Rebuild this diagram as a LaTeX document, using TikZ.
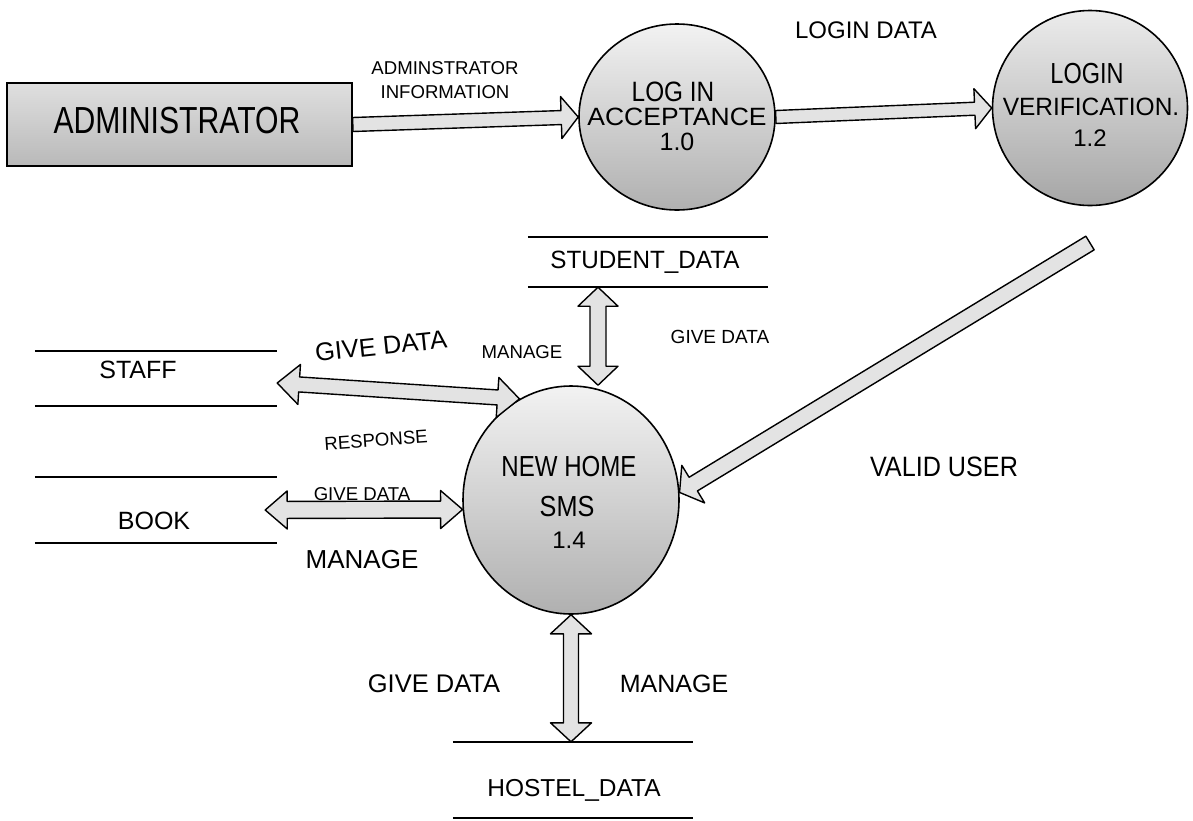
\documentclass[tikz,border=0pt]{standalone}
\usepackage{fontspec}
\setmainfont{Liberation Sans}
\usepackage{graphicx}
\usetikzlibrary{calc,shapes.geometric}
\tikzset{
 blk/.style={draw=black, fill=gray!22, line width=1.4pt, line join=round},
 proc/.style={ellipse, draw=black, line width=1.6pt, inner sep=0pt, top color=gray!10, bottom color=gray!62},
 store/.style={rectangle, inner sep=0pt},
 tx/.style={inner sep=0pt, font=\fontsize{#1}{#1}\selectfont},
 sline/.style={line width=1.8pt},
}
% single-headed block arrow: tail, tip, half shaft, half head, head length
\newcommand\sarrow[5]{%
 \filldraw[blk] ($(#1)!#3pt!90:(#2)$)
  -- ($(#2)!#5pt!(#1)!#3pt!270:(#1)$)
  -- ($(#2)!#5pt!(#1)!#4pt!270:(#1)$)
  -- (#2)
  -- ($(#2)!#5pt!(#1)!#4pt!90:(#1)$)
  -- ($(#2)!#5pt!(#1)!#3pt!90:(#1)$)
  -- ($(#1)!#3pt!270:(#2)$) -- cycle;}
% double-headed block arrow
\newcommand\darrow[5]{%
 \filldraw[blk] (#1)
  -- ($(#1)!#5pt!(#2)!#4pt!90:(#2)$)
  -- ($(#1)!#5pt!(#2)!#3pt!90:(#2)$)
  -- ($(#2)!#5pt!(#1)!#3pt!270:(#1)$)
  -- ($(#2)!#5pt!(#1)!#4pt!270:(#1)$)
  -- (#2)
  -- ($(#2)!#5pt!(#1)!#4pt!90:(#1)$)
  -- ($(#2)!#5pt!(#1)!#3pt!90:(#1)$)
  -- ($(#1)!#5pt!(#2)!#3pt!270:(#2)$)
  -- ($(#1)!#5pt!(#2)!#4pt!270:(#2)$)
  -- cycle;}
\begin{document}
\begin{tikzpicture}[x=1pt,y=-1pt]
\fill[white] (0,0) rectangle (1193,820);
\useasboundingbox (0,0) rectangle (1193,820);

% external entity
\node[rectangle, draw=black, line width=1.6pt, top color=gray!25, bottom color=gray!55,
      minimum width=345pt, minimum height=83pt, inner sep=0pt] (admin) at (179.5,124.5) {};
\node[tx=37.7] (admint) at (177,121) {\scalebox{0.8}[1]{ADMINISTRATOR}};

% processes
\node[proc, minimum width=196pt, minimum height=186pt] (login) at (677,117) {};
\node[proc, minimum width=195pt, minimum height=195pt, top color=gray!15, bottom color=gray!70] (verify) at (1090,108) {};
\node[proc, minimum width=216pt, minimum height=228pt] (sms) at (571,500) {};

\node[tx=28] (lg1) at (673,92) {\scalebox{0.87}[1]{LOG IN}};
\node[tx=25] (lg2) at (677,117) {\scalebox{1.06}[1]{ACCEPTANCE}};
\node[tx=25] (lg3) at (677,142) {1.0};

\node[tx=29] (vf1) at (1087,74) {\scalebox{0.81}[1]{LOGIN}};
\node[tx=25] (vf2) at (1091,107) {\scalebox{0.98}[1]{VERIFICATION.}};
\node[tx=24] (vf3) at (1090,138) {1.2};

\node[tx=29] (sm1) at (569,467) {\scalebox{0.83}[1]{NEW HOME}};
\node[tx=29] (sm2) at (567,507) {\scalebox{0.87}[1]{SMS}};
\node[tx=24] (sm3) at (569,540) {1.4};

% data stores
\node[store, minimum width=240pt, minimum height=50pt] (stu) at (648,262) {};
\draw[sline] (stu.north west) -- (stu.north east) (stu.south west) -- (stu.south east);
\node[tx=25] (stut) at (645,262) {\scalebox{0.97}[1]{STUDENT\_DATA}};

\node[store, minimum width=242pt, minimum height=55pt] (staff) at (156,378.5) {};
\draw[sline] (staff.north west) -- (staff.north east) (staff.south west) -- (staff.south east);
\node[tx=25] (stafft) at (138,370) {STAFF};

\node[store, minimum width=242pt, minimum height=66pt] (book) at (156,510) {};
\draw[sline] (book.north west) -- (book.north east) (book.south west) -- (book.south east);
\node[tx=25] (bookt) at (154,521) {BOOK};

\node[store, minimum width=240pt, minimum height=76pt] (hostel) at (573,780) {};
\draw[sline] (hostel.north west) -- (hostel.north east) (hostel.south west) -- (hostel.south east);
\node[tx=24.5] (hostelt) at (574,790) {HOSTEL\_DATA};

% connectors
\sarrow{admin.east}{login.west}{7}{21}{17}
\sarrow{login.east}{verify.west}{6.5}{20}{17}

\coordinate (vt) at (1090,243);
\sarrow{vt}{sms.4}{8}{22}{16}

\coordinate (s1) at ($(stu.south west)!0.292!(stu.south east)$);
\coordinate (s2) at (s1 |- sms.north);
\darrow{s1}{s2}{8}{20}{19}

\coordinate (st1) at ([yshift=-4.5pt]staff.east);
\darrow{st1}{sms.117}{7.5}{20}{22}

\coordinate (bk1) at ([xshift=-12pt]book.east);
\darrow{bk1}{sms.185}{8.5}{19}{22}

\coordinate (h2) at (sms.south |- hostel.north);
\darrow{sms.south}{h2}{7.5}{20.5}{19}

% flow labels
\node[tx=18.6, align=center, font=\fontsize{18.6}{24}\selectfont] (ainfo) at (445,80) {ADMINSTRATOR\\INFORMATION};
\node[tx=24] (ldata) at (866,30) {LOGIN DATA};
\node[tx=28] (vuser) at (944,467) {\scalebox{0.9}[1]{VALID USER}};
\node[tx=18.6] (man1) at (522,352) {MANAGE};
\node[tx=19] (gd1) at (720,337) {GIVE DATA};
\node[tx=25.5, rotate=6] (gd2) at (381,346) {GIVE DATA};
\node[tx=18.6, rotate=4] (resp) at (376,440) {RESPONSE};
\node[tx=18.6] (gd3) at (362,494) {GIVE DATA};
\node[tx=26] (man2) at (362,560) {MANAGE};
\node[tx=25.5] (gd4) at (434,684) {GIVE DATA};
\node[tx=25] (man3) at (674,684) {MANAGE};
\end{tikzpicture}
\end{document}
